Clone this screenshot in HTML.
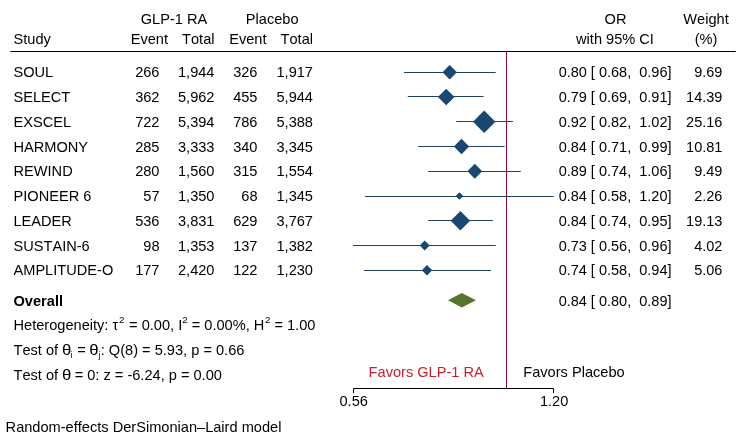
<!DOCTYPE html>
<html><head><meta charset="utf-8"><title>Forest plot</title>
<style>
html,body{margin:0;padding:0;background:#fff;}
svg{display:block;}
text{font-family:"Liberation Sans",Arial,Helvetica,sans-serif;font-size:14.6px;fill:#000;white-space:pre;font-kerning:none;font-variant-ligatures:none;}
.e{text-anchor:end}.m{text-anchor:middle}
.b{font-weight:bold}
.s{font-size:9.8px}.t{font-size:8.2px}.n{font-size:14.5px}
</style></head><body>
<svg width="746" height="440" viewBox="0 0 746 440">
<rect width="746" height="440" fill="#fff"/>

<text x="174" y="23.75" class="m">GLP-1 RA</text>
<text x="272.2" y="23.75" class="m">Placebo</text>
<text x="615.5" y="23.75" class="m">OR</text>
<text x="706" y="23.75" class="m">Weight</text>
<text x="13.5" y="43.85">Study</text>
<text x="168" y="43.85" class="e">Event</text>
<text x="214.5" y="43.85" class="e">Total</text>
<text x="266.5" y="43.85" class="e">Event</text>
<text x="313" y="43.85" class="e">Total</text>
<text x="615" y="43.85" class="m">with 95% CI</text>
<text x="706" y="43.85" class="m">(%)</text>
<line x1="10.3" y1="51.5" x2="735.7" y2="51.5" stroke="#000" stroke-width="1.15"/>
<line x1="506.5" y1="52" x2="506.5" y2="388.5" stroke="#820f3c" stroke-width="1.05"/>
<text x="13.5" y="77.30">SOUL</text>
<text x="159.5" y="77.30" class="e">266</text>
<text x="214.5" y="77.30" class="e">1,944</text>
<text x="257.5" y="77.30" class="e">326</text>
<text x="313" y="77.30" class="e">1,917</text>
<text x="671.5" y="77.30" class="e n">0.80 [ 0.68,  0.96]</text>
<text x="722.4" y="77.30" class="e n">9.69</text>
<line x1="404.0" y1="72.5" x2="495.7" y2="72.5" stroke="#1d4063" stroke-width="1.05"/>
<polygon points="442.50,72.20 449.70,65.00 456.90,72.20 449.70,79.40" fill="#1a476f"/>
<text x="13.5" y="102.06">SELECT</text>
<text x="159.5" y="102.06" class="e">362</text>
<text x="214.5" y="102.06" class="e">5,962</text>
<text x="257.5" y="102.06" class="e">455</text>
<text x="313" y="102.06" class="e">5,944</text>
<text x="671.5" y="102.06" class="e n">0.79 [ 0.69,  0.91]</text>
<text x="722.4" y="102.06" class="e n">14.39</text>
<line x1="407.8" y1="96.5" x2="483.6" y2="96.5" stroke="#1d4063" stroke-width="1.05"/>
<polygon points="437.90,96.96 446.20,88.66 454.50,96.96 446.20,105.26" fill="#1a476f"/>
<text x="13.5" y="126.82">EXSCEL</text>
<text x="159.5" y="126.82" class="e">722</text>
<text x="214.5" y="126.82" class="e">5,394</text>
<text x="257.5" y="126.82" class="e">786</text>
<text x="313" y="126.82" class="e">5,388</text>
<text x="671.5" y="126.82" class="e n">0.92 [ 0.82,  1.02]</text>
<text x="722.4" y="126.82" class="e n">25.16</text>
<line x1="456.2" y1="121.5" x2="512.9" y2="121.5" stroke="#1d4063" stroke-width="1.05"/>
<polygon points="473.00,121.72 484.20,110.52 495.40,121.72 484.20,132.92" fill="#1a476f"/>
<text x="13.5" y="151.58">HARMONY</text>
<text x="159.5" y="151.58" class="e">285</text>
<text x="214.5" y="151.58" class="e">3,333</text>
<text x="257.5" y="151.58" class="e">340</text>
<text x="313" y="151.58" class="e">3,345</text>
<text x="671.5" y="151.58" class="e n">0.84 [ 0.71,  0.99]</text>
<text x="722.4" y="151.58" class="e n">10.81</text>
<line x1="418.2" y1="146.5" x2="504.6" y2="146.5" stroke="#1d4063" stroke-width="1.05"/>
<polygon points="453.80,146.48 461.50,138.78 469.20,146.48 461.50,154.18" fill="#1a476f"/>
<text x="13.5" y="176.34">REWIND</text>
<text x="159.5" y="176.34" class="e">280</text>
<text x="214.5" y="176.34" class="e">1,560</text>
<text x="257.5" y="176.34" class="e">315</text>
<text x="313" y="176.34" class="e">1,554</text>
<text x="671.5" y="176.34" class="e n">0.89 [ 0.74,  1.06]</text>
<text x="722.4" y="176.34" class="e n">9.49</text>
<line x1="428.2" y1="171.5" x2="520.8" y2="171.5" stroke="#1d4063" stroke-width="1.05"/>
<polygon points="467.40,171.24 474.80,163.84 482.20,171.24 474.80,178.64" fill="#1a476f"/>
<text x="13.5" y="201.10">PIONEER 6</text>
<text x="159.5" y="201.10" class="e">57</text>
<text x="214.5" y="201.10" class="e">1,350</text>
<text x="257.5" y="201.10" class="e">68</text>
<text x="313" y="201.10" class="e">1,345</text>
<text x="671.5" y="201.10" class="e n">0.84 [ 0.58,  1.20]</text>
<text x="722.4" y="201.10" class="e n">2.26</text>
<line x1="365.1" y1="196.5" x2="553.6" y2="196.5" stroke="#1d4063" stroke-width="1.05"/>
<polygon points="455.70,196.00 459.50,192.20 463.30,196.00 459.50,199.80" fill="#1a476f"/>
<text x="13.5" y="225.86">LEADER</text>
<text x="159.5" y="225.86" class="e">536</text>
<text x="214.5" y="225.86" class="e">3,831</text>
<text x="257.5" y="225.86" class="e">629</text>
<text x="313" y="225.86" class="e">3,767</text>
<text x="671.5" y="225.86" class="e n">0.84 [ 0.74,  0.95]</text>
<text x="722.4" y="225.86" class="e n">19.13</text>
<line x1="428.2" y1="220.5" x2="492.8" y2="220.5" stroke="#1d4063" stroke-width="1.05"/>
<polygon points="450.70,220.76 460.40,211.06 470.10,220.76 460.40,230.46" fill="#1a476f"/>
<text x="13.5" y="250.62">SUSTAIN-6</text>
<text x="159.5" y="250.62" class="e">98</text>
<text x="214.5" y="250.62" class="e">1,353</text>
<text x="257.5" y="250.62" class="e">137</text>
<text x="313" y="250.62" class="e">1,382</text>
<text x="671.5" y="250.62" class="e n">0.73 [ 0.56,  0.96]</text>
<text x="722.4" y="250.62" class="e n">4.02</text>
<line x1="353.0" y1="245.5" x2="495.8" y2="245.5" stroke="#1d4063" stroke-width="1.05"/>
<polygon points="419.70,245.52 424.70,240.52 429.70,245.52 424.70,250.52" fill="#1a476f"/>
<text x="13.5" y="275.38">AMPLITUDE-O</text>
<text x="159.5" y="275.38" class="e">177</text>
<text x="214.5" y="275.38" class="e">2,420</text>
<text x="257.5" y="275.38" class="e">122</text>
<text x="313" y="275.38" class="e">1,230</text>
<text x="671.5" y="275.38" class="e n">0.74 [ 0.58,  0.94]</text>
<text x="722.4" y="275.38" class="e n">5.06</text>
<line x1="363.9" y1="270.5" x2="491.0" y2="270.5" stroke="#1d4063" stroke-width="1.05"/>
<polygon points="421.80,270.28 427.00,265.08 432.20,270.28 427.00,275.48" fill="#1a476f"/>
<text x="13.5" y="305.5" class="b">Overall</text>
<polygon points="448,300.2 461.8,293.0 476,300.2 461.8,307.4" fill="#55752f"/>
<text x="671.5" y="305.5" class="e n">0.84 [ 0.80,  0.89]</text>
<text x="13.5" y="330.35">Heterogeneity: τ<tspan class="s" dy="-7.1" dx="0.8">2</tspan><tspan dy="7.1" dx="0.5"> = 0.00, I</tspan><tspan class="s" dy="-7.1">2</tspan><tspan dy="7.1"> = 0.00%, H</tspan><tspan class="s" dy="-7.1" dx="0.6">2</tspan><tspan dy="7.1"> = 1.00</tspan></text>
<text x="13.5" y="355.0">Test of </text>
<text transform="translate(62.05,355.0) scale(1.15,1)">θ</text>
<text x="70.55" y="357.8" class="t">i</text>
<text x="73.1" y="355.0"> = </text>
<text transform="translate(89.3,355.0) scale(1.15,1)">θ</text>
<text x="98.4" y="357.8" class="t">j</text>
<text x="100.77" y="355.0">: Q(8) = 5.93, p = 0.66</text>
<text x="13.5" y="379.75">Test of </text>
<text transform="translate(62.05,379.75) scale(1.15,1)">θ</text>
<text x="70.6" y="379.75"> = 0: z = -6.24, p = 0.00</text>
<path d="M353.5,393 V388.5 H553.5 V393" fill="none" stroke="#000" stroke-width="1"/>
<text x="353.7" y="406.2" class="m">0.56</text>
<text x="554.1" y="406.2" class="m">1.20</text>
<text x="426.2" y="376.9" class="m" style="fill:#c81e2d">Favors GLP-1 RA</text>
<text x="574" y="376.6" class="m">Favors Placebo</text>
<text x="5.6" y="432.3">Random-effects DerSimonian–Laird model</text>
</svg></body></html>
